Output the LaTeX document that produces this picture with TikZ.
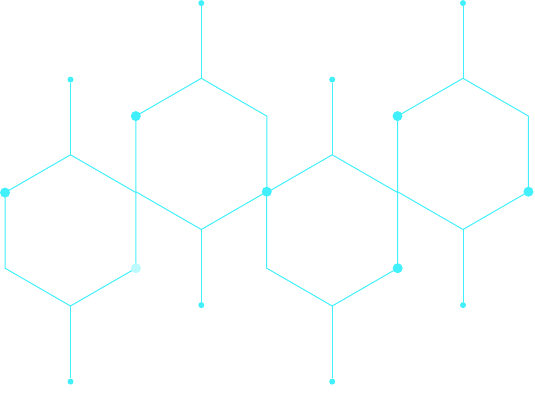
\documentclass[tikz,border=0pt]{standalone}
\usetikzlibrary{calc}
\definecolor{hexcyan}{RGB}{66,240,252}

\begin{document}
\begin{tikzpicture}[
    x=1pt, y=1pt,
    bond/.style={draw=hexcyan, line width=1pt},
    atom/.style={circle, fill=hexcyan, inner sep=0pt, minimum size=10pt},
    tip/.style={circle, fill=hexcyan, inner sep=0pt, minimum size=6pt}
  ]
  \useasboundingbox (0,0) rectangle (535,393);

  % Rings
  \foreach \n/\x/\y in {1/70.5/162.6, 2/201.3/239.1, 3/332.2/162.6, 4/463/239.1} {
    \coordinate (h\n) at (\x,\y);
    \foreach \a/\v in {90/t, 30/ur, -30/lr, -90/b, -150/ll, 150/ul}
      \coordinate (h\n-\v) at ($(h\n)+(\a:75.6)$);
    \draw[bond] (h\n-t) -- (h\n-ur) -- (h\n-lr) -- (h\n-b) -- (h\n-ll)
      -- (h\n-ul) -- cycle;
  }

  % Stems
  \foreach \n in {1,...,4} {
    \node[tip] (up\n) at ($(h\n-t)+(0,75.2)$) {};
    \node[tip] (down\n) at ($(h\n-b)+(0,-75.6)$) {};
    \draw[bond] (h\n-t) -- (up\n);
    \draw[bond] (h\n-b) -- (down\n);
  }

  % Joints
  \foreach \p in {h1-ul, h2-ul, h2-lr, h3-lr, h4-ul, h4-lr}
    \node[atom] (j-\p) at (\p) {};
  \node[atom, fill=hexcyan!35] (j-h1-lr) at (h1-lr) {};
\end{tikzpicture}
\end{document}
